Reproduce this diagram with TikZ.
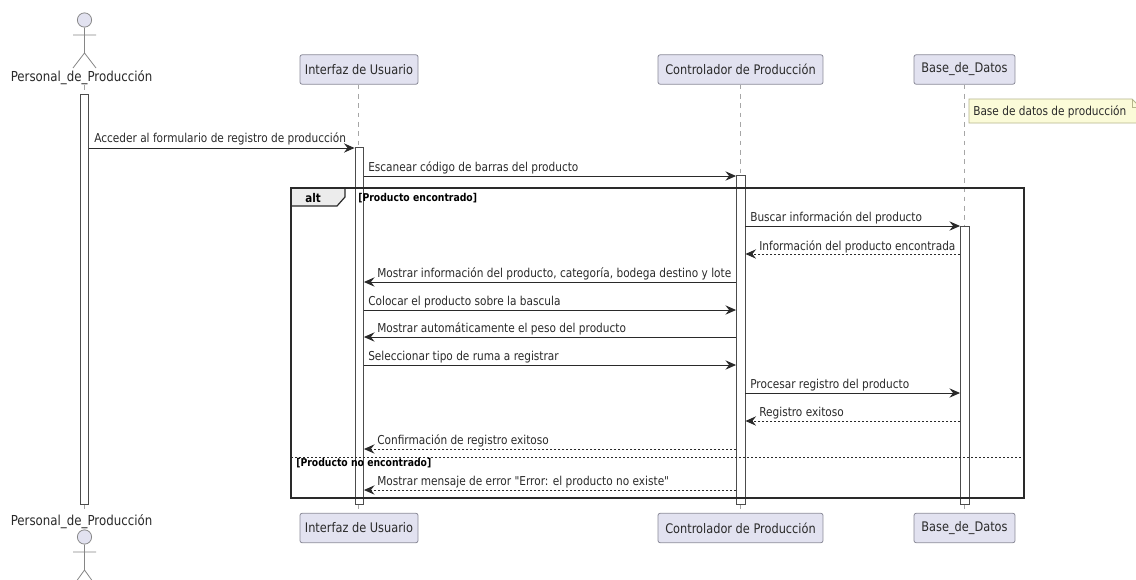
\documentclass[tikz,border=0pt]{standalone}
\usepackage{fontspec}
\usetikzlibrary{arrows.meta,fit}
\newfontfamily\basefont[FakeStretch=0.86]{DejaVu Sans}
\newfontfamily\guardfont[FakeStretch=0.86]{DejaVu Sans Bold}
\definecolor{partfill}{HTML}{E2E2F0}
\definecolor{partline}{HTML}{8A8A98}
\definecolor{ink}{HTML}{2A2A2A}
\definecolor{notefill}{HTML}{FBFBD8}
\definecolor{noteline}{HTML}{B5B58C}
\tikzset{
  part/.style={draw=partline,fill=partfill,rounded corners=1.5pt,line width=.6pt,inner sep=0pt,text=ink,font=\basefont\fontsize{9.9pt}{11pt}\selectfont,align=center},
  lbl/.style={anchor=base west,inner sep=0pt,text=ink,font=\basefont\fontsize{9.2pt}{11pt}\selectfont},
  actorname/.style={anchor=base,inner sep=0pt,text=ink,font=\basefont\fontsize{10.3pt}{12pt}\selectfont},
  guard/.style={anchor=base west,inner sep=0pt,text=black,font=\guardfont\fontsize{8.1pt}{10pt}\selectfont},
  lifeline/.style={draw=gray!70,line width=.55pt,dash pattern=on 3.5pt off 3.5pt},
  bar/.style={draw=black!70,fill=white,line width=.65pt,inner sep=0pt},
  actorline/.style={draw=gray!95,fill=none,line width=.6pt},
  head/.style={draw=gray!95,fill=partfill,line width=.6pt},
  msg/.style={draw=ink,line width=.75pt,-{Stealth[length=8pt,width=7pt,inset=2.8pt]}},
  reply/.style={msg,dash pattern=on 1.6pt off 1.4pt},
  framebox/.style={draw=ink,line width=1.1pt},
}
\begin{document}
\begin{tikzpicture}[x=.75pt,y=-.75pt]
\useasboundingbox (0,0) rectangle (1136,579);
\clip (0,0) rectangle (1136,579);
\fill[white] (0,0) rectangle (1136,579);
% participants
\node[part,minimum width=88.5pt,minimum height=22pt] (uiT) at (359,69.5) {Interfaz de Usuario};
\node[part,minimum width=123.7pt,minimum height=22pt] (ctT) at (740.5,69.5) {Controlador de Producción};
\node[part,minimum width=75.7pt,minimum height=22pt] (dbT) at (964.5,69.5) {Base\_de\_Datos};
\node[part,minimum width=88.5pt,minimum height=22pt] (uiB) at (359,528) {Interfaz de Usuario};
\node[part,minimum width=123.7pt,minimum height=22pt] (ctB) at (740.5,528) {Controlador de Producción};
\node[part,minimum width=75.7pt,minimum height=22pt] (dbB) at (964.5,528) {Base\_de\_Datos};
\node[actorname] (peT) at (81.5,81.5) {Personal\_de\_Producción};
\node[actorname] (peB) at (81.5,525) {Personal\_de\_Producción};
% actors
\node[head,circle,minimum size=10.7pt,inner sep=0pt] (hdT) at (84.5,20) {};
\coordinate (hipT) at (84.5,53);
\draw[actorline] (hdT.south) -- (hipT) (73,35) -- (96,35) (73,68) -- (hipT) -- (96,68);
\node[head,circle,minimum size=10.7pt,inner sep=0pt] (hdB) at (84.5,537) {};
\coordinate (hipB) at (84.5,570);
\draw[actorline] (hdB.south) -- (hipB) (73,552) -- (96,552) (73,586) -- (hipB) -- (96,586);
% lifelines
\draw[lifeline] (84.5,85) -- (84.5,509);
\draw[lifeline] (uiT.south -| 358.5,0) -- (uiB.north -| 358.5,0);
\draw[lifeline] (ctT.south) -- (ctB.north);
\draw[lifeline] (dbT.south) -- (dbB.north);
% activations
\node[bar,fit={(80.5,94)(88.5,504)}] (barP) {};
\node[bar,fit={(355,147.5)(363.5,504)}] (barU) {};
\node[bar,fit={(736.5,175.5)(745,504)}] (barC) {};
\node[bar,fit={(960.5,226)(969,504)}] (barD) {};
% note
\draw[draw=noteline,fill=notefill,line width=.6pt] (969,99) -- (1132,99) -- (1140,107) -- (1140,123) -- (969,123) -- cycle;
\draw[draw=noteline,line width=.6pt] (1132,99) -- (1132,107) -- (1140,107);
\node[lbl] (noteT) at (973,115) {Base de datos de producción};
% frame
\fill[gray!15] (291,188) -- (345,188) -- (345,197) -- (337,206) -- (291,206) -- cycle;
\draw[framebox] (291,188) rectangle (1024,498);
\draw[framebox,line width=.9pt] (345,188) -- (345,197) -- (337,206) -- (291,206);
\node[guard,anchor=base,font=\guardfont\fontsize{9pt}{10pt}\selectfont] (altT) at (313,202) {alt};
\node[guard] (g1) at (358,201.5) {[Producto encontrado]};
\draw[draw=ink,line width=.6pt,dash pattern=on 1.5pt off 1.5pt] (291,457.5) -- (1024,457.5);
\node[guard] (g2) at (296,466.5) {[Producto no encontrado]};
% messages
\coordinate (y1) at (0,148);
\coordinate (y2) at (0,176);
\coordinate (y3) at (0,226);
\coordinate (y4) at (0,254);
\coordinate (y5) at (0,282);
\coordinate (y6) at (0,310);
\coordinate (y7) at (0,337);
\coordinate (y8) at (0,365);
\coordinate (y9) at (0,393);
\coordinate (y10) at (0,421);
\coordinate (y11) at (0,449);
\coordinate (y12) at (0,490);
\draw[msg] (barP.east |- y1) -- (barU.west |- y1);
\draw[msg] (barU.east |- y2) -- (barC.west |- y2);
\draw[msg] (barC.east |- y3) -- (barD.west |- y3);
\draw[reply] (barD.west |- y4) -- (barC.east |- y4);
\draw[msg] (barC.west |- y5) -- (barU.east |- y5);
\draw[msg] (barU.east |- y6) -- (barC.west |- y6);
\draw[msg] (barC.west |- y7) -- (barU.east |- y7);
\draw[msg] (barU.east |- y8) -- (barC.west |- y8);
\draw[msg] (barC.east |- y9) -- (barD.west |- y9);
\draw[reply] (barD.west |- y10) -- (barC.east |- y10);
\draw[reply] (barC.west |- y11) -- (barU.east |- y11);
\draw[reply] (barC.west |- y12) -- (barU.east |- y12);
\node[lbl] (m1) at (94,142) {Acceder al formulario de registro de producción};
\node[lbl] (m2) at (368,171) {Escanear código de barras del producto};
\node[lbl] (m3) at (750,221.5) {Buscar información del producto};
\node[lbl] (m4) at (759,250) {Información del producto encontrada};
\node[lbl] (m5) at (377,277) {Mostrar información del producto, categoría, bodega destino y lote};
\node[lbl] (m6) at (368,305) {Colocar el producto sobre la bascula};
\node[lbl] (m7) at (377,332.5) {Mostrar automáticamente el peso del producto};
\node[lbl] (m8) at (368,360) {Seleccionar tipo de ruma a registrar};
\node[lbl] (m9) at (750,388) {Procesar registro del producto};
\node[lbl] (m10) at (759,416.5) {Registro exitoso};
\node[lbl] (m11) at (377,444) {Confirmación de registro exitoso};
\node[lbl] (m12) at (377,485) {Mostrar mensaje de error "Error: el producto no existe"};
\end{tikzpicture}
\end{document}
